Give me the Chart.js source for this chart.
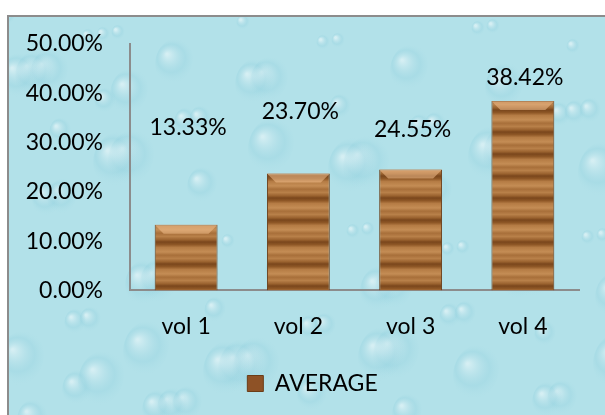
<!DOCTYPE html>
<html lang="en">
<head>
    <meta charset="UTF-8">
    <title>AVERAGE</title>
    <script src="https://cdn.jsdelivr.net/npm/chart.js"></script>
    <style>
        html, body { margin: 0; padding: 0; background: #ffffff; }
        #wrap { width: 605px; height: 415px; position: relative; }
    </style>
</head>
<body>
    <div id="wrap"><canvas id="avgChart"></canvas></div>

    <script>
        // data
        const categories = ['vol 1', 'vol 2', 'vol 3', 'vol 4'];
        const averageValues = [13.33, 23.70, 24.55, 38.42];
        const yTicks = [0, 10, 20, 30, 40, 50];

        // where the value labels sit (in axis units), they float above the bars
        const labelAnchors = [33.0, 36.3, 32.7, 43.2];

        const FONT = 'Lato, "Open Sans", sans-serif';

        // wood stripes for the bars
        function woodPattern() {
            const c = document.createElement('canvas');
            c.width = 8;
            c.height = 22;
            const g = c.getContext('2d');
            const grad = g.createLinearGradient(0, 0, 0, 22);
            grad.addColorStop(0.00, '#7a461c');
            grad.addColorStop(0.12, '#8e5726');
            grad.addColorStop(0.25, '#b57c45');
            grad.addColorStop(0.45, '#c48d55');
            grad.addColorStop(0.60, '#a86f3a');
            grad.addColorStop(0.75, '#b88049');
            grad.addColorStop(0.90, '#9a622f');
            grad.addColorStop(1.00, '#7a461c');
            g.fillStyle = grad;
            g.fillRect(0, 0, 8, 22);
            return g.createPattern(c, 'repeat');
        }

        // light blue "water drop" backdrop plus the grey frame
        const backdrop = {
            id: 'backdrop',
            beforeDraw(chart) {
                const ctx = chart.ctx;
                const w = chart.width, h = chart.height;
                ctx.save();
                ctx.fillStyle = '#ffffff';
                ctx.fillRect(0, 0, w, h);
                ctx.fillStyle = '#b2e1e9';
                ctx.fillRect(8, 16, w - 8, h - 16);
                ctx.beginPath();
                ctx.rect(8, 16, w - 8, h - 16);
                ctx.clip();
                for (let i = 0; i < 90; i++) {
                    const x = 8 + ((i * 97) % 610);
                    const y = 16 + ((i * 53 + (i % 7) * 31) % 410);
                    const r = 8 + (i % 5) * 5;
                    const gr = ctx.createRadialGradient(x - r * 0.3, y - r * 0.3, 1, x, y, r);
                    gr.addColorStop(0, 'rgba(255,255,255,0.45)');
                    gr.addColorStop(0.6, 'rgba(140,205,220,0.25)');
                    gr.addColorStop(1, 'rgba(178,225,233,0)');
                    ctx.fillStyle = gr;
                    ctx.beginPath();
                    ctx.ellipse(x, y, r * 0.8, r, 0.3, 0, Math.PI * 2);
                    ctx.fill();
                }
                ctx.restore();
                ctx.save();
                ctx.strokeStyle = '#8c8c8c';
                ctx.lineWidth = 2;
                ctx.strokeRect(8, 16, w + 10, h + 10);
                ctx.restore();
            }
        };

        // bevel on the bar tops and the floating value labels
        const barExtras = {
            id: 'barExtras',
            afterDatasetsDraw(chart) {
                const ctx = chart.ctx;
                const meta = chart.getDatasetMeta(0);
                const yScale = chart.scales.y;
                ctx.save();
                meta.data.forEach((bar, i) => {
                    const left = bar.x - bar.width / 2;
                    const right = bar.x + bar.width / 2;
                    const top = bar.y;
                    const b = 9;
                    ctx.fillStyle = 'rgba(240,190,140,0.55)';
                    ctx.beginPath();
                    ctx.moveTo(left, top);
                    ctx.lineTo(right, top);
                    ctx.lineTo(right - b, top + b);
                    ctx.lineTo(left + b, top + b);
                    ctx.closePath();
                    ctx.fill();

                    ctx.fillStyle = '#000000';
                    ctx.font = '23px ' + FONT;
                    ctx.textAlign = 'center';
                    ctx.textBaseline = 'middle';
                    const txt = averageValues[i].toFixed(2) + '%';
                    ctx.fillText(txt, bar.x + 2, yScale.getPixelForValue(labelAnchors[i]));
                });
                ctx.restore();
            }
        };

        const ctxAvg = document.getElementById('avgChart').getContext('2d');
        const avgChart = new Chart(ctxAvg, {
            type: 'bar',
            data: {
                labels: categories,
                datasets: [{
                    label: 'AVERAGE',
                    data: averageValues,
                    backgroundColor: woodPattern(),
                    borderColor: '#6b3d18',
                    borderWidth: 1,
                    barPercentage: 0.56,
                    categoryPercentage: 1.0
                }]
            },
            options: {
                responsive: true,
                maintainAspectRatio: false,
                animation: false,
                layout: {
                    padding: { top: 44, right: 0, left: 20, bottom: 10 }
                },
                scales: {
                    y: {
                        min: 0,
                        max: 50,
                        afterFit(scale) { scale.width = 110; },
                        afterBuildTicks(scale) {
                            scale.ticks = yTicks.map(v => ({ value: v }));
                        },
                        ticks: {
                            padding: 27,
                            color: '#000000',
                            font: { family: FONT, size: 23 },
                            callback: v => v.toFixed(2) + '%'
                        },
                        grid: { display: false, drawTicks: false },
                        border: { display: true, color: '#8c8c8c', width: 2 }
                    },
                    // empty right-hand strip so the plot ends where the picture's does
                    yRight: {
                        position: 'right',
                        display: true,
                        afterFit(scale) { scale.width = 26; },
                        ticks: { display: false },
                        grid: { display: false, drawTicks: false },
                        border: { display: false }
                    },
                    x: {
                        ticks: {
                            padding: 22,
                            color: '#000000',
                            font: { family: FONT, size: 23 }
                        },
                        grid: { display: false, drawTicks: false },
                        border: { display: true, color: '#8c8c8c', width: 2 }
                    }
                },
                plugins: {
                    legend: {
                        position: 'bottom',
                        labels: {
                            boxWidth: 16,
                            boxHeight: 16,
                            color: '#000000',
                            font: { family: FONT, size: 23 },
                            generateLabels: chart => [{
                                text: 'AVERAGE',
                                fillStyle: '#8e5226',
                                strokeStyle: '#6b3d18',
                                lineWidth: 1,
                                datasetIndex: 0
                            }]
                        }
                    },
                    tooltip: { enabled: false }
                }
            },
            plugins: [backdrop, barExtras]
        });
    </script>
</body>
</html>
